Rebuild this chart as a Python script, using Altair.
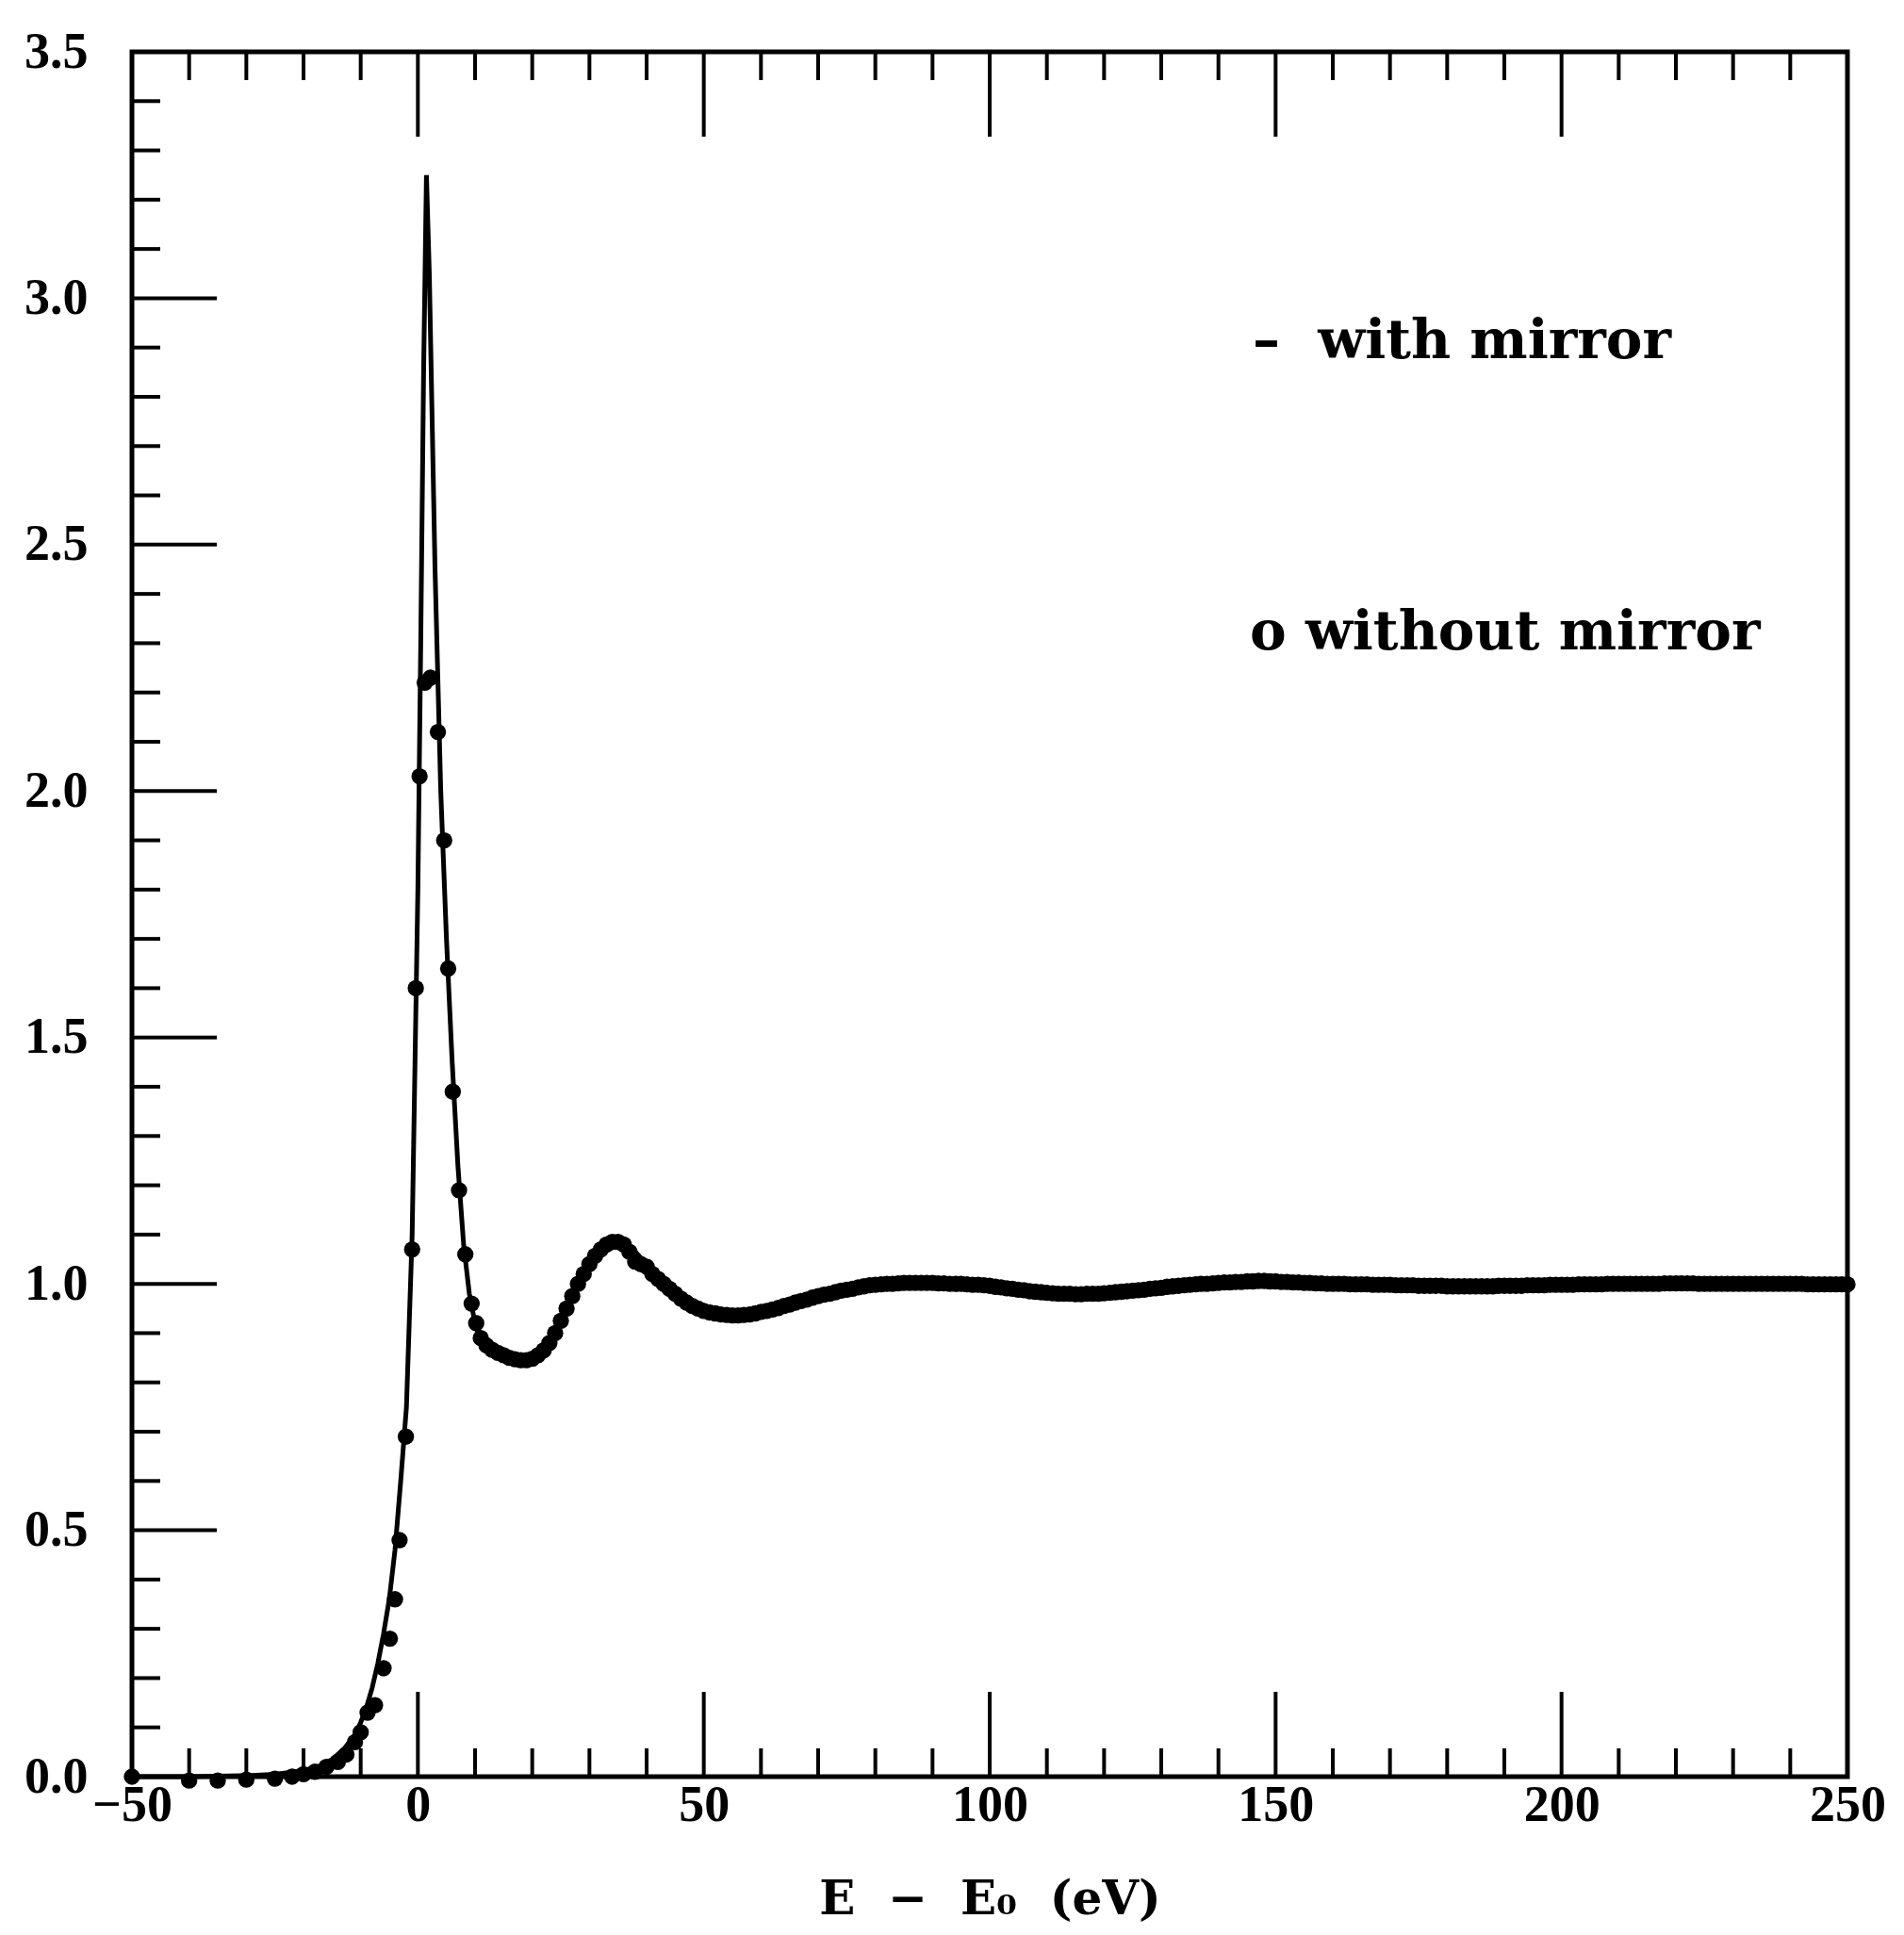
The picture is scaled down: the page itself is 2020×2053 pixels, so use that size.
import altair as alt
import pandas as pd

# ---- "with mirror" (solid line) ----
line_x = [-50, -40, -30, -25, -20, -17, -15, -13, -11, -10, -9, -8, -7, -6, -5, -4, -3, -2, -1, -0.5,
          0, 0.5, 1.0, 1.5, 2.0, 2.5, 3.0, 4.0, 5.0, 6.0, 7.0, 8.0, 9.0, 10, 11, 12, 14, 16, 18, 20,
          22, 24, 26, 28, 30, 32, 34, 36, 38, 40, 42, 45, 48, 51, 55, 58, 62, 66, 70, 75,
          80, 85, 90, 95, 100, 105, 110, 115, 120, 125, 130, 135, 140, 145, 150, 155, 160, 170,
          180, 190, 200, 210, 220, 230, 240, 250]
line_y = [0.0, 0.0, 0.002, 0.005, 0.012, 0.022, 0.035, 0.055, 0.085, 0.11, 0.14, 0.18, 0.23, 0.29, 0.36, 0.46, 0.60, 0.75, 1.1, 1.45,
          1.8, 2.3, 2.85, 3.25, 3.05, 2.75, 2.45, 2.0, 1.7, 1.45, 1.24, 1.08, 0.98, 0.92, 0.885, 0.87, 0.858, 0.85, 0.845, 0.85,
          0.87, 0.91, 0.96, 1.01, 1.05, 1.078, 1.09, 1.085, 1.065, 1.04, 1.015, 0.985, 0.96, 0.945, 0.94, 0.942, 0.95, 0.963, 0.975, 0.99,
          0.998, 1.002, 1.003, 1.002, 0.998, 0.99, 0.983, 0.98, 0.982, 0.985, 0.992, 0.998, 1.003, 1.006, 1.005, 1.002, 1.0, 1.0,
          0.998, 0.996, 0.997, 0.998, 1.0, 1.0, 1.0, 1.0]

# ---- "without mirror" (dots) ----
edge_x = [-50, -40, -35, -30, -25, -22, -20, -18, -16, -14, -12.5, -11, -10, -8.8, -7.5, -6, -4.9, -4.0, -3.2, -2.1,
          -1.0, -0.36, 0.3, 1.2, 2.2, 3.5, 4.6, 5.3, 6.1, 7.2, 8.3, 9.4, 10.2]
edge_y = [0.0, -0.008, -0.008, -0.006, -0.004, 0.0, 0.005, 0.01, 0.02, 0.03, 0.045, 0.07, 0.09, 0.13, 0.145, 0.22, 0.28, 0.36, 0.48, 0.69,
          1.07, 1.6, 2.03, 2.22, 2.23, 2.12, 1.9, 1.64, 1.39, 1.19, 1.06, 0.96, 0.92]
# dense part, one point per eV from 11 to 250 eV
tail_x = list(range(11, 251))
tail_y = [
    0.89, 0.875, 0.866, 0.86, 0.855, 0.85, 0.847, 0.845, 0.845, 0.848,
    0.855, 0.865, 0.88, 0.9, 0.925, 0.95, 0.975, 1.0, 1.02, 1.04,
    1.057, 1.07, 1.08, 1.085, 1.085, 1.08, 1.065, 1.045, 1.04, 1.035,
    1.02, 1.01, 1.0, 0.99, 0.98, 0.97, 0.962, 0.955, 0.95, 0.945,
    0.942, 0.94, 0.938, 0.937, 0.936, 0.936, 0.937, 0.938, 0.94, 0.943,
    0.945, 0.948, 0.951, 0.955, 0.958, 0.962, 0.965, 0.968, 0.972, 0.975,
    0.978, 0.98, 0.983, 0.986, 0.988, 0.99, 0.993, 0.995, 0.997, 0.998,
    0.999, 1.0, 1.0, 1.001, 1.002, 1.002, 1.002, 1.002, 1.002, 1.002,
    1.001, 1.001, 1.0, 1.0, 1.0, 0.999, 0.998, 0.998, 0.997, 0.996,
    0.994, 0.993, 0.991, 0.99, 0.988, 0.987, 0.985, 0.984, 0.983, 0.982,
    0.981, 0.98, 0.98, 0.98, 0.979, 0.979, 0.98, 0.98, 0.98, 0.981,
    0.982, 0.983, 0.984, 0.985, 0.986, 0.987, 0.988, 0.99, 0.991, 0.992,
    0.994, 0.995, 0.996, 0.997, 0.998, 0.999, 1.0, 1.0, 1.001, 1.002,
    1.003, 1.003, 1.004, 1.004, 1.005, 1.005, 1.006, 1.006, 1.005, 1.005,
    1.004, 1.004, 1.003, 1.003, 1.002, 1.002, 1.001, 1.001, 1.0, 1.0,
    1.0, 1.0, 0.999, 0.999, 0.999, 0.999, 0.998, 0.998, 0.998, 0.998,
    0.997, 0.997, 0.997, 0.997, 0.996, 0.996, 0.996, 0.996, 0.996, 0.995,
    0.995, 0.995, 0.995, 0.995, 0.995, 0.995, 0.995, 0.995, 0.996, 0.996,
    0.996, 0.996, 0.996, 0.997, 0.997, 0.997, 0.997, 0.998, 0.998, 0.998,
    0.998, 0.998, 0.999, 0.999, 0.999, 0.999, 0.999, 1.0, 1.0, 1.0,
    1.0, 1.0, 1.0, 1.0, 1.0, 1.0, 1.0, 1.001, 1.001, 1.001,
    1.001, 1.001, 1.001, 1.0, 1.0, 1.0, 1.0, 1.0, 1.0, 1.0,
    1.0, 1.0, 1.0, 1.0, 1.0, 1.0, 1.0, 1.0, 1.0, 1.0,
    1.0, 1.0, 0.999, 0.999, 0.999, 0.999, 0.999, 0.999, 0.999, 0.999,
]

# ---- tick positions ----
x_labels = [-50, 0, 50, 100, 150, 200, 250]
x_major = [0, 50, 100, 150, 200]
x_minor = [-40, -30, -20, -10, 10, 20, 30, 40, 60, 70, 80, 90, 110, 120, 130, 140,
           160, 170, 180, 190, 210, 220, 230, 240]
y_labels = [0.0, 0.5, 1.0, 1.5, 2.0, 2.5, 3.0, 3.5]
y_major = [0.5, 1.0, 1.5, 2.0, 2.5, 3.0]
y_minor = [0.1, 0.2, 0.3, 0.4, 0.6, 0.7, 0.8, 0.9, 1.1, 1.2, 1.3, 1.4, 1.6, 1.7, 1.8, 1.9,
           2.1, 2.2, 2.3, 2.4, 2.6, 2.7, 2.8, 2.9, 3.1, 3.2, 3.3, 3.4]

# ---- legend annotations ----
note_text = ["\u2013", "with mirror", "o without mirror"]
note_x = [146, 157.4, 145.5]
note_y = [2.91, 2.91, 2.32]

W, H = 1820, 1830
FONT = "DejaVu Serif"
TICKFONT = "Liberation Serif"
MAJ, MIN = 90, 30
NB = "\u00a0"

xs = alt.Scale(domain=[-50, 250], nice=False, zero=False)
ys = alt.Scale(domain=[0, 3.5], nice=False, zero=False)

x_axis = alt.Axis(values=x_labels, format="d",
                  title="E" + NB + " \u2212" + NB + " E\u2080" + NB + " (eV)",
                  ticks=False, domain=False, grid=False,
                  labelFont=TICKFONT, labelFontWeight="bold", labelFontSize=54,
                  labelColor="black", labelPadding=3, labelFlush=False,
                  titleFont=FONT, titleFontWeight="bold", titleFontSize=50,
                  titleColor="black", titlePadding=48)
y_axis = alt.Axis(values=y_labels, format=".1f", title=None,
                  ticks=False, domain=False, grid=False,
                  labelFont=TICKFONT, labelFontWeight="bold", labelFontSize=54,
                  labelColor="black", labelPadding=47, labelFlush=False)

X = alt.X("x:Q", scale=xs, axis=x_axis)
Y = alt.Y("y:Q", scale=ys, axis=y_axis)

line_df = pd.DataFrame({"x": line_x, "y": line_y})
dot_df = pd.DataFrame({"x": edge_x + tail_x, "y": edge_y + tail_y})

base_line = alt.Chart(line_df).mark_line(color="black", strokeWidth=5).encode(x=X, y=Y)

dots = alt.Chart(dot_df).mark_circle(color="black", size=300, opacity=1).encode(x=X, y=Y)


def xticks(vals, top, length):
    df = pd.DataFrame({"x": vals})
    y0 = 0 if top else H
    y1 = length if top else H - length
    return alt.Chart(df).mark_rule(color="black", strokeWidth=4).encode(
        x=X, y=alt.value(y0), y2=alt.value(y1))


def yticks(vals, length):
    df = pd.DataFrame({"y": vals})
    return alt.Chart(df).mark_rule(color="black", strokeWidth=4).encode(
        y=Y, x=alt.value(0), x2=alt.value(length))


note_df = pd.DataFrame({"x": note_x, "y": note_y, "t": note_text})
notes = alt.Chart(note_df).mark_text(
    align="left", baseline="middle", font=FONT, fontWeight="bold", fontSize=58, color="black"
).encode(x=X, y=Y, text="t:N")

chart = alt.layer(
    base_line, dots,
    xticks(x_major, False, MAJ), xticks(x_minor, False, MIN),
    xticks(x_major, True, MAJ), xticks(x_minor, True, MIN),
    yticks(y_major, MAJ), yticks(y_minor, MIN),
    notes,
).properties(
    width=W, height=H,
    autosize=alt.AutoSizeParams(type="none"),
    padding={"left": 132, "top": 47, "right": 52, "bottom": 168},
).configure_view(
    stroke="black", strokeWidth=5, fill="white"
)

chart.save("out.html", embed_options={"renderer": "svg", "actions": False})
